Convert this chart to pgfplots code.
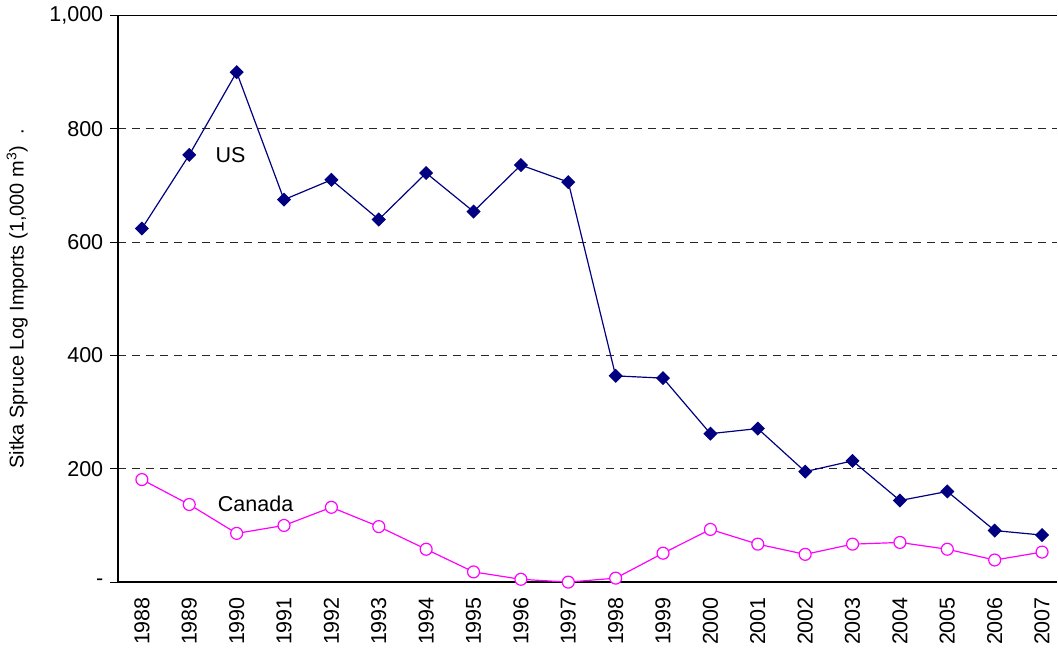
\documentclass[border=0pt]{standalone}
\usepackage{pgfplots}
\pgfplotsset{compat=1.18}
\usepackage{fontspec}
\setmainfont{Liberation Sans}
\definecolor{usnavy}{HTML}{000080}
\definecolor{canmag}{HTML}{FF00FF}
\begin{document}
\begin{tikzpicture}
\begin{axis}[
  scale only axis,
  width=471.5pt, height=284.5pt,
  xmin=-0.5, xmax=19.32,
  ymin=0, ymax=1000,
  axis x line*=box, axis y line*=left,
  axis line style={black, line width=0.8pt},
  tick align=outside,
  tick style={black, line width=0.6pt},
  major tick length=4pt,
  xtick={0,...,19},
  xticklabels={1988,1989,1990,1991,1992,1993,1994,1995,1996,1997,1998,1999,2000,2001,2002,2003,2004,2005,2006,2007},
  x tick label style={rotate=90, anchor=east, font=\fontsize{10.8}{12}\selectfont},
  xtick style={draw=none},
  minor xtick={-0.5,0.5,...,18.5},
  minor tick length=4pt,
  minor x tick style={black, line width=0.6pt},
  ytick={0,200,400,600,800,1000},
  yticklabels={-,200,400,600,800,{1,000}},
  y tick label style={font=\fontsize{10.8}{12}\selectfont},
  ymajorgrids,
  major grid style={black!85, dash pattern=on 4pt off 3pt, line width=0.5pt},
  ylabel={Sitka Spruce Log Imports (1,000 m\textsuperscript{3})\ \ .},
  ylabel style={font=\fontsize{9.4}{11}\selectfont},
  every axis y label/.style={at={(ticklabel cs:0.5)}, rotate=90, anchor=south, yshift=4pt},
  clip=false,
]
\addplot[usnavy, line width=0.6pt, mark=square*, mark size=2.2pt,
  mark options={rotate=45, fill=usnavy, draw=usnavy}] coordinates {
  (0,624) (1,754) (2,900) (3,675) (4,710) (5,640) (6,722) (7,654) (8,736) (9,706)
  (10,364) (11,360) (12,262) (13,271) (14,195) (15,214) (16,144) (17,160) (18,91) (19,83)
};
\addplot[canmag, line width=0.6pt, mark=*, mark size=3pt,
  mark options={fill=white, draw=canmag, line width=0.6pt}] coordinates {
  (0,181) (1,137) (2,86) (3,100) (4,132) (5,98) (6,58) (7,18) (8,5) (9,0)
  (10,7) (11,51) (12,93) (13,67) (14,49) (15,67) (16,70) (17,58) (18,39) (19,53)
};
\node[font=\fontsize{10.8}{12}\selectfont] at (axis cs:1.87,754) {US};
\node[font=\fontsize{10.8}{12}\selectfont] at (axis cs:2.4,139) {Canada};
\end{axis}
\end{tikzpicture}
\end{document}
